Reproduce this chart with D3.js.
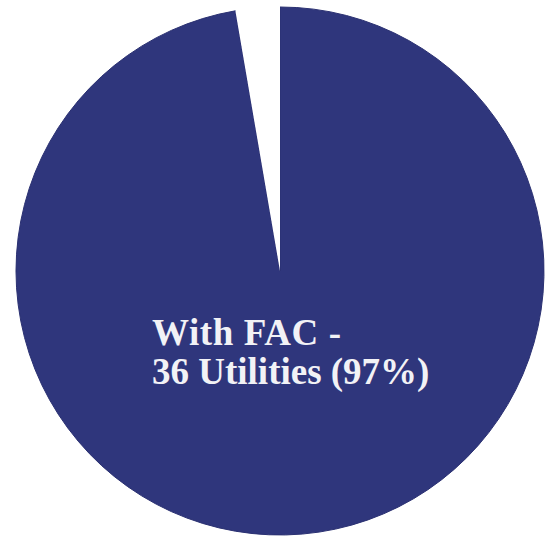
<!DOCTYPE html>
<html>
<head>
<meta charset="utf-8">
<script src="https://cdn.jsdelivr.net/npm/d3@7"></script>
<style>
html,body{margin:0;padding:0;background:#fff;}
svg{display:block;}
</style>
</head>
<body>
<svg id="chart" width="546" height="542"></svg>
<script>
const categories = ["With FAC", "Without FAC"];
const values = [36, 1];
const colors = ["#2f367c", "#ffffff"];
const labelLines = ["With FAC -", "36 Utilities (97%)"];

const svg = d3.select("#chart");
const cx = 280, cy = 271, r = 264;

const pie = d3.pie().sort(null).value(d => d)(values);
const arc = d3.arc().innerRadius(0).outerRadius(r);

const g = svg.append("g").attr("transform", `translate(${cx},${cy})`);
g.selectAll("path")
  .data(pie)
  .join("path")
  .attr("d", arc)
  .attr("fill", (d, i) => colors[i])
  .attr("stroke", (d, i) => i === 0 ? "#2b3172" : "none")
  .attr("stroke-width", 1);

const txt = svg.append("text")
  .attr("font-family", "'Liberation Serif', 'Times New Roman', serif")
  .attr("font-weight", "bold")
  .attr("font-size", 37)
  .attr("fill", "#f2f2f6");
txt.selectAll("tspan")
  .data(labelLines)
  .join("tspan")
  .attr("x", 152)
  .attr("y", (d, i) => 345 + i * 39)
  .attr("letter-spacing", (d, i) => i === 0 ? 0.6 : 0)
  .text(d => d);
</script>
</body>
</html>
